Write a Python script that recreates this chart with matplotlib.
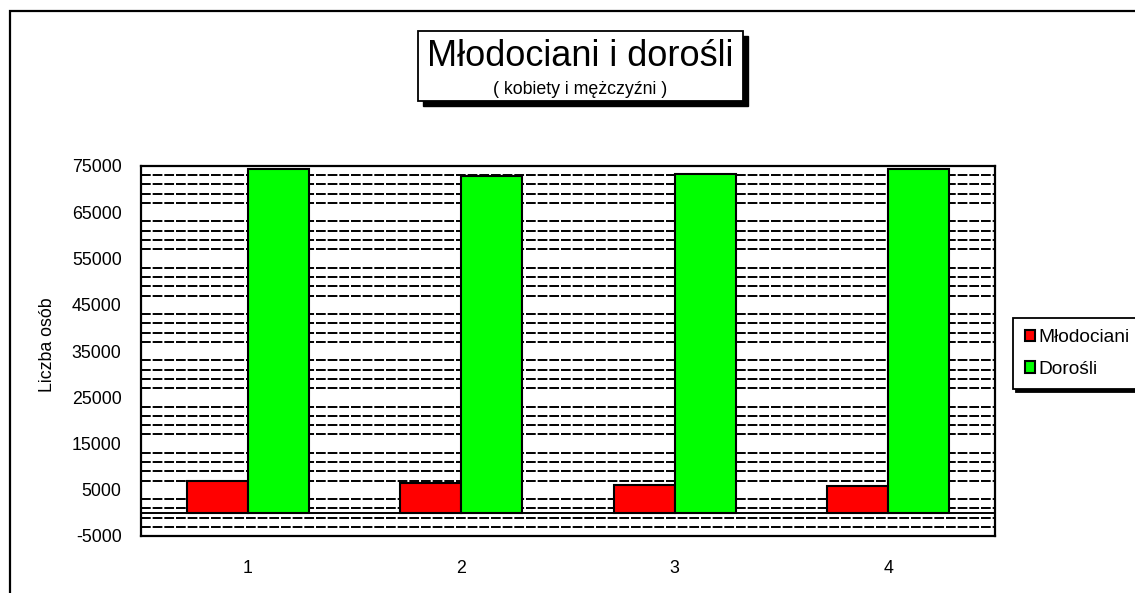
import numpy as np
import matplotlib
matplotlib.use("Agg")
from matplotlib import pyplot as plt
from matplotlib.patches import Rectangle
from matplotlib.ticker import MultipleLocator

plt.rcParams['font.family'] = ['Liberation Sans', 'DejaVu Sans']
plt.rcParams['axes.unicode_minus'] = False

categories = ['1', '2', '3', '4']
mlodociani = [6900, 6500, 6000, 5900]
dorosli = [74400, 72800, 73200, 74400]
series_names = ['Młodociani', 'Dorośli']
title = 'Młodociani i dorośli'
subtitle = '( kobiety i mężczyźni )'
ylabel = 'Liczba osób'

W, H = 1135, 593
fig = plt.figure(figsize=(W / 100, H / 100), dpi=100)

# outer chart border (right/bottom run off the picture)
fig.patches.append(Rectangle((10 / W, -0.1), 1.2, 1.1 - 11 / H, transform=fig.transFigure,
                             fill=False, ec='black', lw=1.6))

ax = fig.add_axes([141 / W, 1 - 536 / H, (995 - 141) / W, (536 - 166) / H])
x = np.arange(1, len(categories) + 1)
w = 0.285
b1 = ax.bar(x - w / 2, mlodociani, w, color='#ff0000', edgecolor='black', lw=1.5, zorder=3,
            label=series_names[0])
b2 = ax.bar(x + w / 2, dorosli, w, color='#00ff00', edgecolor='black', lw=1.5, zorder=3,
            label=series_names[1])

ax.set_xlim(0.5, len(categories) + 0.5)
ax.set_ylim(-5000, 75000)
ax.set_yticks(np.arange(-5000, 75001, 10000))
ax.set_xticks(x)
ax.set_xticklabels(categories)
ax.yaxis.set_minor_locator(MultipleLocator(2000, offset=1000))
ax.grid(which='minor', axis='y', color='black', lw=1.4, ls=(0, (5, 1.0)), zorder=1)
ax.axhline(0, color='black', lw=1.4, zorder=2)
ax.tick_params(which='both', length=0, labelsize=12.8)
ax.tick_params(axis='y', pad=14)
ax.tick_params(axis='x', pad=17)
for s in ax.spines.values():
    s.set_linewidth(1.6)

fig.text(47 / W, 1 - 345 / H, ylabel, rotation=90, ha='center', va='center', fontsize=12.8)

# title box with shadow
tb = (418, 31, 743, 101)
fig.patches.append(Rectangle(((tb[0] + 5) / W, 1 - (tb[3] + 5) / H), (tb[2] - tb[0]) / W,
                             (tb[3] - tb[1]) / H, transform=fig.transFigure, fc='black', ec='black'))
fig.patches.append(Rectangle((tb[0] / W, 1 - tb[3] / H), (tb[2] - tb[0]) / W,
                             (tb[3] - tb[1]) / H, transform=fig.transFigure, fc='white', ec='black', lw=1.3))
fig.text((tb[0] + tb[2]) / 2 / W, 1 - 56 / H, title, ha='center', va='center', fontsize=26)
fig.text((tb[0] + tb[2]) / 2 / W, 1 - 89 / H, subtitle, ha='center', va='center', fontsize=12.8)

leg = fig.legend(handles=[b1, b2], loc='upper left', bbox_to_anchor=(1013 / W, 1 - 318 / H),
                 fontsize=13.8, frameon=True, fancybox=False, edgecolor='black',
                 shadow={'color': 'black', 'alpha': 1}, borderpad=0.6,
                 handlelength=0.55, handleheight=0.55, handletextpad=0.15, labelspacing=0.75,
                 borderaxespad=0)
leg.get_frame().set_linewidth(1.3)
leg.get_frame().set_alpha(1)

fig.savefig('out.png', dpi=100)
